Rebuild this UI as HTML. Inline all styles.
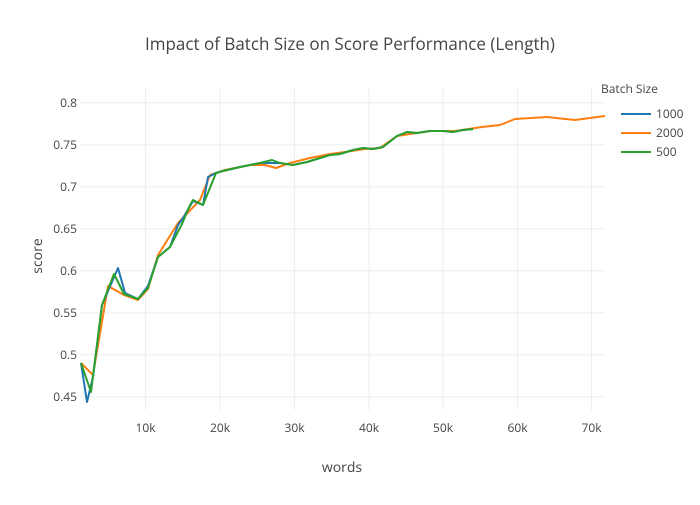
<!DOCTYPE html>
<html><head><style>body{margin:0;background:#fff}svg{font-family:"Open Sans","Liberation Sans",sans-serif}</style></head><body>
<svg width="700" height="500" xmlns="http://www.w3.org/2000/svg">
<rect width="700" height="500" fill="#fff"/>
<g stroke="#eee" stroke-width="1">
<line x1="145.5" y1="88" x2="145.5" y2="410"/><line x1="220" y1="88" x2="220" y2="410"/><line x1="294.5" y1="88" x2="294.5" y2="410"/><line x1="369" y1="88" x2="369" y2="410"/><line x1="443" y1="88" x2="443" y2="410"/><line x1="517.5" y1="88" x2="517.5" y2="410"/><line x1="591.5" y1="88" x2="591.5" y2="410"/>
<line x1="80" y1="102.7" x2="605" y2="102.7"/><line x1="80" y1="144.7" x2="605" y2="144.7"/><line x1="80" y1="186.7" x2="605" y2="186.7"/><line x1="80" y1="228.7" x2="605" y2="228.7"/><line x1="80" y1="270.7" x2="605" y2="270.7"/><line x1="80" y1="312.7" x2="605" y2="312.7"/><line x1="80" y1="354.7" x2="605" y2="354.7"/><line x1="80" y1="396.7" x2="605" y2="396.7"/>
</g>
<g font-size="12" fill="#444" text-anchor="end">
<text x="77" y="107">0.8</text><text x="77" y="149">0.75</text><text x="77" y="191">0.7</text><text x="77" y="233">0.65</text><text x="77" y="275">0.6</text><text x="77" y="317">0.55</text><text x="77" y="359">0.5</text><text x="77" y="401">0.45</text>
</g>
<g font-size="12" fill="#444" text-anchor="middle">
<text x="145.5" y="432">10k</text><text x="220" y="432">20k</text><text x="294.5" y="432">30k</text><text x="369" y="432">40k</text><text x="443" y="432">50k</text><text x="517.5" y="432">60k</text><text x="591.5" y="432">70k</text>
</g>
<text x="350" y="50" font-size="17" fill="#444" text-anchor="middle">Impact of Batch Size on Score Performance (Length)</text>
<text x="342" y="472" font-size="14" fill="#444" text-anchor="middle">words</text>
<text x="42" y="256" font-size="14" fill="#444" text-anchor="middle" transform="rotate(-90 42 256)">score</text>
<g fill="none" stroke-width="2" stroke-linejoin="round">
<polyline stroke="#ff7f0e" points="81,363 93,375 108,286 124,295 138,300 148,289 158,255 178,223 200,200 210,175 225,170 250,165 265,165 276,168 290,163 310,158 330,154 345,152 365,149 380,148 397,136 410,134 430,131 455,131 482,127 500,125 515,119 547,117 575,120 605,116"/>
<polyline stroke="#1f77b4" points="81,363 87,402 93,377 102,305 118,268 125,293 138,299 148,286 158,257 170,247 178,225 183,218 193,201 203,205 208,177 216,173 223,171 240,167 260,163 270,163 280,163 293,165 307,162 330,155 340,154 353,150 363,148 373,149 383,147 397,136 407,132 417,133 430,131 443,131 453,132 463,130 473,129"/>
<polyline stroke="#2ca02c" points="81,363 91,392 102,305 114,274 124,294 138,299 148,288 158,257 170,247 182,224 190,205 193,200 203,205 216,173 223,171 240,167 260,163 272,160 280,163 293,165 307,162 330,155 340,154 353,150 363,148 373,149 383,147 397,136 407,132 417,133 430,131 443,131 453,132 463,130 473,129"/>
</g>
<text x="601" y="93" font-size="12" fill="#444">Batch Size</text>
<g stroke-width="2"><line x1="621" y1="114" x2="651" y2="114" stroke="#1f77b4"/><line x1="621" y1="133" x2="651" y2="133" stroke="#ff7f0e"/><line x1="621" y1="152" x2="651" y2="152" stroke="#2ca02c"/></g>
<g font-size="12" fill="#444"><text x="656" y="118">1000</text><text x="656" y="137">2000</text><text x="656" y="156">500</text></g>
</svg>
</body></html>
